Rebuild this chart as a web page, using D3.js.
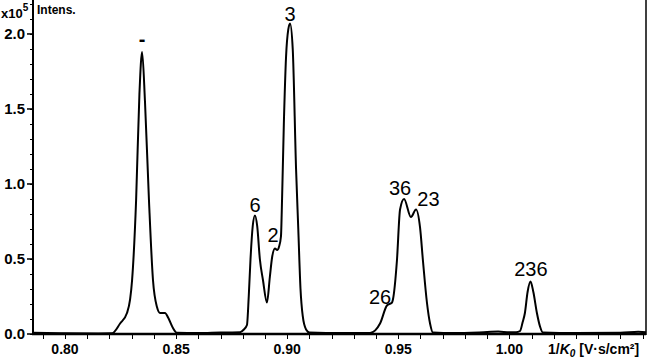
<!DOCTYPE html>
<html>
<head>
<meta charset="utf-8">
<script src="https://cdn.jsdelivr.net/npm/d3@7"></script>
<style>
  body { margin: 0; background: #fff; }
  text { font-family: "Liberation Sans", Arial, sans-serif; fill: #000; }
  .tick-label { font-size: 14px; font-weight: bold; }
  .peak-label { font-size: 20px; }
</style>
</head>
<body>
<svg width="649" height="358"></svg>
<script>
var svg = d3.select('svg');

// 1/K0 values (V·s/cm²) and intensity (x10^5)
var mobility = [
  0.7856, 0.800, 0.815, 0.8212, 0.8248, 0.8279, 0.8293, 0.8302, 0.8320, 0.8335,
  0.8347, 0.8360, 0.8378, 0.8396, 0.8414, 0.8428, 0.8450, 0.8464, 0.8486, 0.8504,
  0.860, 0.870, 0.8788, 0.8805, 0.8819, 0.8827, 0.8835, 0.8845, 0.8855, 0.8865,
  0.8877, 0.8891, 0.8909, 0.8922, 0.8932, 0.8945, 0.8955, 0.8963, 0.8972, 0.8977,
  0.8985, 0.8995, 0.9005, 0.9013, 0.9025, 0.9040, 0.9050, 0.9060, 0.9070, 0.9085,
  0.9100, 0.925, 0.9373, 0.9418, 0.9449, 0.9472, 0.9476, 0.9494, 0.9508, 0.9526,
  0.9557, 0.9580, 0.9598, 0.9611, 0.9629, 0.9643, 0.9656, 0.975, 0.990, 0.995,
  1.000, 1.003, 1.0048, 1.0060, 1.0070, 1.0082, 1.0095, 1.0108, 1.0124, 1.0138,
  1.0151, 1.030, 1.050, 1.058, 1.0615
];
var intensity = [
  0.008, 0.005, 0.004, 0.005, 0.07, 0.14, 0.23, 0.36, 0.89, 1.60,
  1.88, 1.55, 0.89, 0.36, 0.18, 0.14, 0.14, 0.11, 0.04, 0.008,
  0.006, 0.010, 0.012, 0.03, 0.06, 0.25, 0.50, 0.72, 0.79, 0.72,
  0.50, 0.36, 0.21, 0.38, 0.51, 0.57, 0.56, 0.58, 0.65, 0.90,
  1.40, 1.85, 2.03, 2.07, 1.90, 1.10, 0.70, 0.30, 0.12, 0.03,
  0.010, 0.006, 0.007, 0.07, 0.19, 0.21, 0.23, 0.49, 0.83, 0.90,
  0.78, 0.83, 0.71, 0.49, 0.21, 0.07, 0.01, 0.006, 0.013, 0.016,
  0.012, 0.012, 0.02, 0.08, 0.14, 0.28, 0.35, 0.28, 0.14, 0.05,
  0.01, 0.006, 0.008, 0.015, 0.012
];

// peak annotations, anchored in data units (baseline of the text)
var peakNames = ['-', '6', '2', '3', '26', '36', '23', '236'];
var peakX = [0.8347, 0.8855, 0.8936, 0.9013, 0.9418, 0.9508, 0.9636, 1.0097];
var peakY = [1.92, 0.813, 0.61, 2.085, 0.20, 0.925, 0.85, 0.387];

var yTicks = [0, 0.5, 1.0, 1.5, 2.0];
var xTicks = [0.80, 0.85, 0.90, 0.95, 1.00];

var xScale = d3.scaleLinear().domain([0.7856, 1.0615]).range([33, 646]);
var yScale = d3.scaleLinear().domain([0, 2.213]).range([334, 2]);

// minor ticks every 0.01 / 0.1
var xMinor = d3.range(0.79, 1.061, 0.01);
var yMinor = d3.range(0, 2.21, 0.1);

var axisG = svg.append('g');

// y axis
axisG.append('line')
    .attr('x1', 33).attr('x2', 33)
    .attr('y1', 0).attr('y2', 335)
    .attr('stroke', '#000').attr('stroke-width', 2);
axisG.selectAll('.ymin').data(yMinor).enter().append('line')
    .attr('x1', 30).attr('x2', 33)
    .attr('y1', function(d){ return Math.round(yScale(d)) + 0.5; })
    .attr('y2', function(d){ return Math.round(yScale(d)) + 0.5; })
    .attr('stroke', '#000').attr('stroke-width', 1);
axisG.selectAll('.ymaj').data(yTicks).enter().append('line')
    .attr('x1', 27).attr('x2', 33)
    .attr('y1', function(d){ return yScale(d); })
    .attr('y2', function(d){ return yScale(d); })
    .attr('stroke', '#000').attr('stroke-width', 1.5);
axisG.selectAll('.ylab').data(yTicks).enter().append('text')
    .attr('class', 'tick-label')
    .attr('x', 25)
    .attr('y', function(d){ return yScale(d) + 5; })
    .attr('text-anchor', 'end')
    .style('font-size', '15px')
    .text(d3.format('.1f'));

// x axis
axisG.append('line')
    .attr('x1', 32).attr('x2', 646)
    .attr('y1', 334).attr('y2', 334)
    .attr('stroke', '#000').attr('stroke-width', 2.5);
axisG.selectAll('.xmin').data(xMinor).enter().append('line')
    .attr('x1', function(d){ return Math.round(xScale(d)) + 0.5; })
    .attr('x2', function(d){ return Math.round(xScale(d)) + 0.5; })
    .attr('y1', 334).attr('y2', 339)
    .attr('stroke', '#000').attr('stroke-width', 1);
axisG.selectAll('.xlab').data(xTicks).enter().append('text')
    .attr('class', 'tick-label')
    .attr('x', function(d){ return xScale(d); })
    .attr('y', 354)
    .attr('text-anchor', 'middle')
    .text(d3.format('.2f'));

// right frame line
axisG.append('line')
    .attr('x1', 646).attr('x2', 646)
    .attr('y1', 0).attr('y2', 335)
    .attr('stroke', '#000').attr('stroke-width', 1.5);

// axis titles
var xt = svg.append('text')
    .attr('class', 'tick-label')
    .attr('x', 548).attr('y', 354);
xt.append('tspan').text('1/');
xt.append('tspan').attr('font-style', 'italic').text('K');
xt.append('tspan').attr('font-style', 'italic').attr('font-size', 10).attr('dy', 3).text('0');
xt.append('tspan').attr('dy', -3).text(' [V\u00b7s/cm\u00b2]');

svg.append('text')
    .attr('x', 37).attr('y', 14)
    .attr('font-size', 12).attr('font-weight', 'bold')
    .text('Intens.');

var yt = svg.append('text')
    .attr('x', 1).attr('y', 18)
    .attr('font-size', 13).attr('font-weight', 'bold');
yt.append('tspan').text('x10');
yt.append('tspan').attr('font-size', 10).attr('dy', -7).text('5');

// trace
var pts = mobility.map(function(m, i){ return [m, intensity[i]]; });
var line = d3.line()
    .x(function(d){ return xScale(d[0]); })
    .y(function(d){ return yScale(d[1]); })
    .curve(d3.curveMonotoneX);

svg.append('path')
    .datum(pts)
    .attr('d', line)
    .attr('fill', 'none')
    .attr('stroke', '#000')
    .attr('stroke-width', 2)
    .attr('stroke-linejoin', 'round');

// peak labels
svg.selectAll('.peak-label').data(peakNames).enter().append('text')
    .attr('class', 'peak-label')
    .attr('x', function(d, i){ return xScale(peakX[i]); })
    .attr('y', function(d, i){ return yScale(peakY[i]); })
    .attr('text-anchor', 'middle')
    .attr('font-weight', function(d){ return d === '-' ? 'bold' : 'normal'; })
    .text(function(d){ return d; });
</script>
</body>
</html>
